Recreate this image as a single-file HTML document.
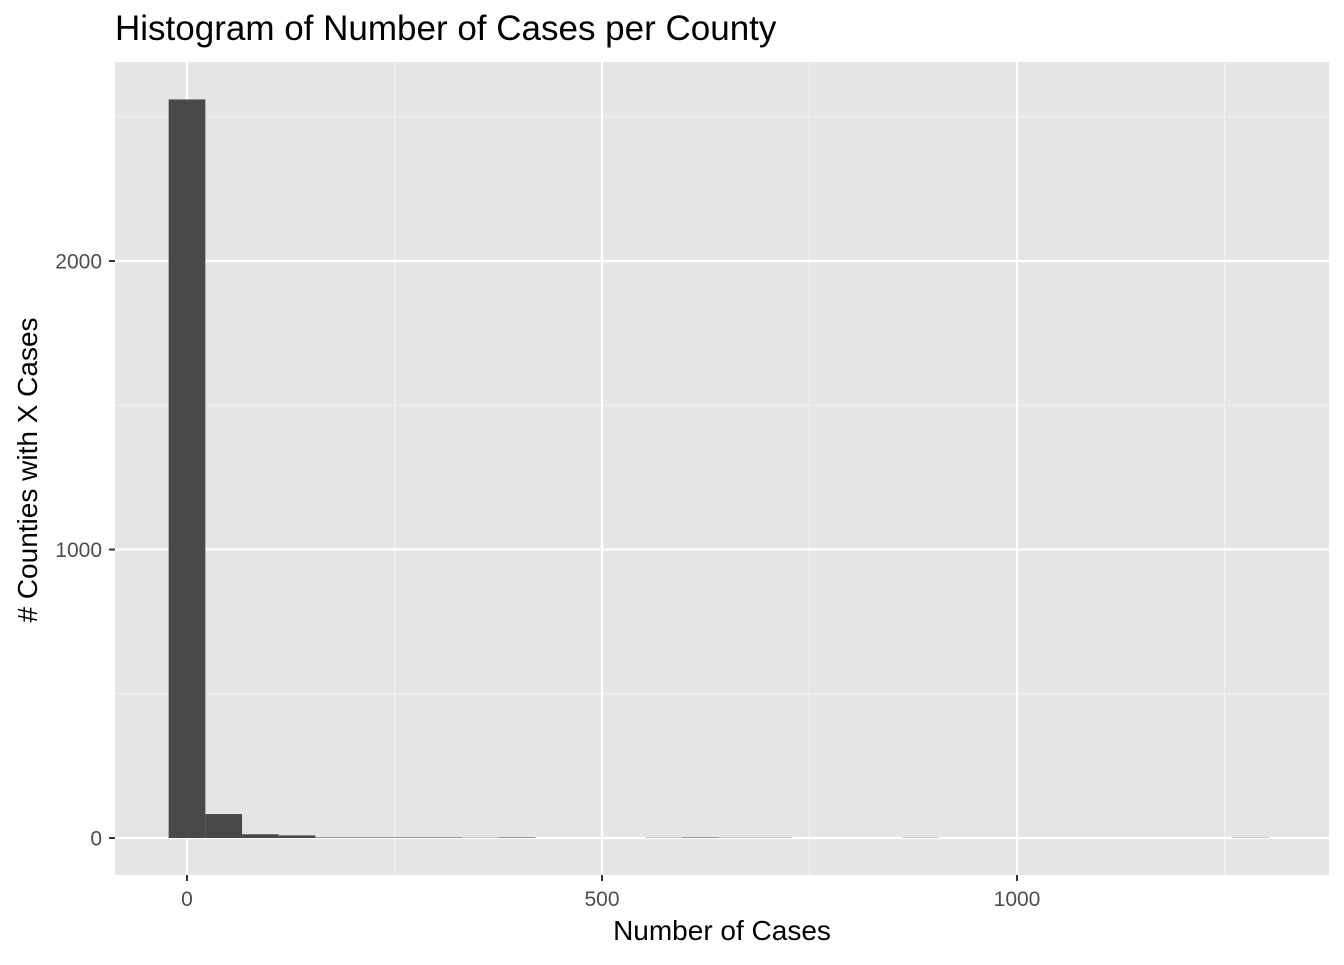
<!DOCTYPE html>
<html><head><meta charset="utf-8"><style>
body{margin:0;background:#fff;font-family:"Liberation Sans",Arial,sans-serif}
</style></head><body>
<svg width="1344" height="960" xmlns="http://www.w3.org/2000/svg" font-family="Liberation Sans, Arial, sans-serif">
<rect x="115" y="62" width="1214" height="813" fill="#e5e5e5"/>
<text x="115" y="40" font-size="35" fill="#000">Histogram of Number of Cases per County</text>
<g id="grid"></g>
<g id="bars"></g>
<g id="axes"></g>
<text x="722" y="940" font-size="28" text-anchor="middle" fill="#000">Number of Cases</text>
<text transform="translate(37,470) rotate(-90)" font-size="28" text-anchor="middle" fill="#000"># Counties with X Cases</text>
</svg>
<script>
const binWidth = 44.2;
const counts = [2560,83,13,9,2,2,2,2,1,2,0,0,0,1,2,1,1,0,0,0,1,0,0,0,0,0,0,0,0,1];
const xMajor = [0,500,1000];
const xMinor = [250,750,1250];
const yMajor = [0,1000,2000];
const yMinor = [500,1500,2500];
const xTickLabels = ["0","500","1000"];
const yTickLabels = ["0","1000","2000"];
const NS="http://www.w3.org/2000/svg";
const X = u => 187 + 0.83*u;
const Y = v => 838 - 0.2885*v;
const P = {l:115,r:1329,t:62,b:875};
function mk(tag,attrs,parent){const e=document.createElementNS(NS,tag);for(const k in attrs)e.setAttribute(k,attrs[k]);parent.appendChild(e);return e;}
const grid=document.getElementById('grid'),bars=document.getElementById('bars'),axes=document.getElementById('axes');
xMinor.forEach(u=>{const l=mk('line',{x1:X(u),x2:X(u),y1:P.t,y2:P.b,stroke:'#f2f2f2','stroke-width':1.1},grid);

});
yMinor.forEach(v=>{const l=mk('line',{x1:P.l,x2:P.r,y1:Y(v),y2:Y(v),stroke:'#f2f2f2','stroke-width':1.1},grid);

});
xMajor.forEach((u,i)=>{const l=mk('line',{x1:X(u),x2:X(u),y1:P.t,y2:P.b,stroke:'#fff','stroke-width':2.2},grid);


const t=mk('line',{x1:X(u),x2:X(u),y1:P.b,y2:P.b+6,stroke:'#333','stroke-width':2},axes);


const tx=mk('text',{x:X(u),y:P.b+31,'font-size':21,fill:'#4d4d4d','text-anchor':'middle'},axes);tx.textContent=xTickLabels[i];

});
yMajor.forEach((v,i)=>{const l=mk('line',{x1:P.l,x2:P.r,y1:Y(v),y2:Y(v),stroke:'#fff','stroke-width':2.2},grid);


const t=mk('line',{x1:P.l-6,x2:P.l,y1:Y(v),y2:Y(v),stroke:'#333','stroke-width':2},axes);


const tx=mk('text',{x:P.l-13,y:Y(v)+7.5,'font-size':21,fill:'#4d4d4d','text-anchor':'end'},axes);tx.textContent=yTickLabels[i];

});
counts.forEach((c,k)=>{if(c<=0)return;const x0=X((k-0.5)*binWidth),x1=X((k+0.5)*binWidth);
const r=mk('rect',{x:x0,y:Y(c),width:x1-x0,height:Math.max(Y(0)-Y(c),0),fill:'#494949'},bars);

});
</script>
</body></html>
